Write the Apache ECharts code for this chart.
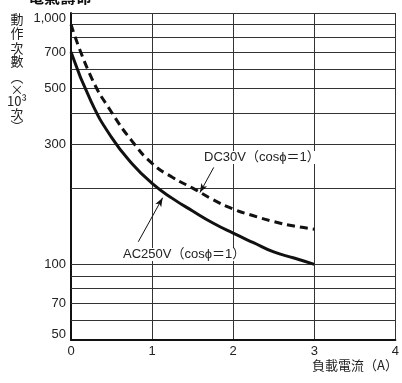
<!DOCTYPE html>
<html><head><meta charset="utf-8">
<script src="https://cdn.jsdelivr.net/npm/echarts@6/dist/echarts.min.js"></script>
<style>html,body{margin:0;padding:0;background:#fff}#c{width:402px;height:383px}</style>
</head><body><div id="c"></div>
<script>
// Data (current in A, operations ×10³)
const currentA = [0, 0.25, 0.5, 0.75, 1.0, 1.25, 1.5, 1.75, 2.0, 2.25, 2.5, 2.75, 3.0];
const ac250V = [700, 443, 320, 252, 210, 183, 163, 146, 133, 122, 112, 106, 100];
const dc30V  = [900, 555, 403, 310, 252, 222, 201, 181, 166, 156, 148, 142, 138];
const yTickLabels = [50, 70, 100, 300, 500, 700, 1000];
const yGridValues = [60, 70, 80, 90, 100, 200, 300, 400, 500, 600, 700, 800, 900, 1000];
const xMin = 0, xMax = 4, xStep = 1;
const yMin = 50, yMax = 1000;
const acLabel = 'AC250V（cosϕ＝1）';
const dcLabel = 'DC30V（cosϕ＝1）';
const xName = '負載電流（A）';
const yNameParts = ['動', '作', '次', '數', '︵', '×', '10³', '次', '︶'];
const titleText = '電氣壽命';
// annotation arrows (data space): [fromX, fromY, toX, toY]
const dcArrow = [1.76, 243, 1.59, 193];
const acArrow = [0.83, 123, 1.13, 184];

const FONT = '"Liberation Sans", Arial, "Noto Sans CJK TC", sans-serif';
const CJK = '"Noto Sans CJK TC", sans-serif';
const chart = echarts.init(document.getElementById('c'), null, {renderer: 'canvas'});
const zip = (xs, ys) => xs.map((x, i) => [x, ys[i]]);

const yNameY = [19, 33.5, 48, 61.5, 77, 89.5, 101, 114, 126];
const yNameGraphics = yNameParts.map((t, i) => ({
  type: 'text', x: 17, y: yNameY[i],
  style: {text: t, font: '13px ' + CJK, fill: '#222', align: 'center', verticalAlign: 'middle'}
}));

chart.setOption({
  animation: false,
  backgroundColor: '#fff',
  grid: {left: 71, right: 5, top: 13, bottom: 43, containLabel: false},
  xAxis: {
    type: 'value', min: xMin, max: xMax, interval: xStep,
    axisLine: {show: true, lineStyle: {color: '#111', width: 2}},
    axisTick: {show: false},
    axisLabel: {color: '#222', fontSize: 13, fontFamily: FONT, margin: 5},
    splitLine: {show: true, lineStyle: {color: '#333', width: 1}}
  },
  yAxis: {
    type: 'log', logBase: 10, min: yMin, max: yMax,
    axisLine: {show: true, lineStyle: {color: '#111', width: 2}},
    axisTick: {show: false},
    axisLabel: {
      color: '#222', fontSize: 13, fontFamily: FONT, margin: 5,
      customValues: yTickLabels,
      formatter: v => {
        const s = Number(v).toLocaleString('en-US');
        if (Math.round(v) === yMax) return '{t|' + s + '}';
        if (Math.round(v) === yMin) return '{b|' + s + '}';
        return s;
      },
      rich: {
        t: {fontSize: 13, fontFamily: FONT, color: '#222', padding: [10, 0, 0, 0]},
        b: {fontSize: 13, fontFamily: FONT, color: '#222', padding: [0, 0, 12, 0]}
      }
    },
    splitLine: {show: false}
  },
  series: [
    {
      type: 'line', data: zip(currentA, ac250V), smooth: 0.5, symbol: 'none',
      lineStyle: {color: '#111', width: 3}, z: 5,
      markLine: {
        silent: true, symbol: 'none', animation: false,
        label: {show: false},
        lineStyle: {color: '#333', width: 1, type: 'solid'},
        data: yGridValues.map(v => ({yAxis: v}))
      }
    },
    {
      type: 'line', data: zip(currentA, dc30V), smooth: 0.5, symbol: 'none',
      lineStyle: {color: '#111', width: 3, type: [8, 5]}, z: 5,
      markLine: {
        silent: true, animation: false,
        symbol: ['none', 'arrow'], symbolSize: [5, 9],
        label: {show: false},
        lineStyle: {color: '#111', width: 1, type: 'solid'},
        data: [
          [{coord: [dcArrow[0], dcArrow[1]]}, {coord: [dcArrow[2], dcArrow[3]]}],
          [{coord: [acArrow[0], acArrow[1]]}, {coord: [acArrow[2], acArrow[3]]}]
        ]
      }
    }
  ],
  graphic: [
    {type: 'text', left: 28, top: -11, style: {text: titleText, font: 'bold 16px ' + CJK, fill: '#111'}},
    ...yNameGraphics,
    {type: 'text', x: 398, y: 359, style: {text: xName, font: '13px ' + CJK, fill: '#222', align: 'right'}},
    {type: 'text', x: 203, y: 151, z: 10, style: {text: dcLabel, font: '13px ' + FONT, fill: '#222', backgroundColor: '#fff', padding: [0, 1]}},
    {type: 'text', x: 122, y: 248, z: 10, style: {text: acLabel, font: '13px ' + FONT, fill: '#222', backgroundColor: '#fff', padding: [0, 1]}}
  ]
});
</script>
</body></html>
